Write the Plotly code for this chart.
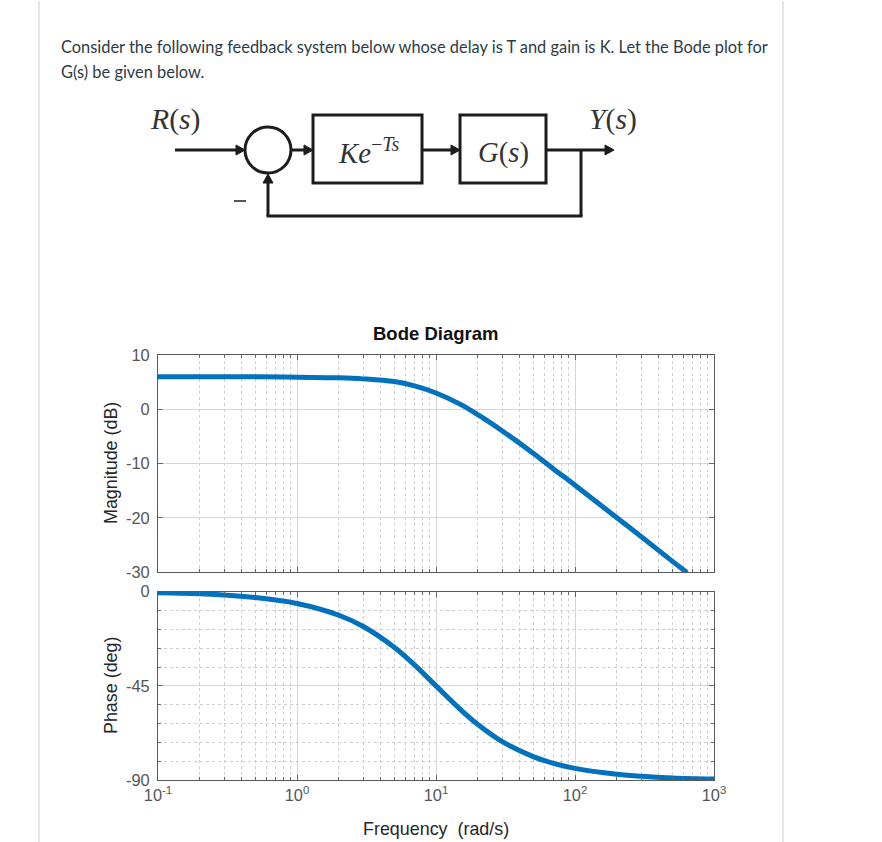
import plotly.graph_objects as go

# ---------------- data ----------------
freq_mag = [0.1, 0.2, 0.5, 1, 2, 3, 5, 7, 10, 15, 20, 30, 50, 70, 100, 200, 300, 500, 640]
mag_db = [6.0, 6.0, 6.0, 5.9, 5.8, 5.6, 5.1, 4.3, 3.0, 0.9, -1.0, -4.0, -8.1, -11.0,
          -14.0, -20.0, -23.5, -28.0, -30.1]
freq_phase = [0.1, 0.2, 0.5, 1, 2, 3, 5, 7, 10, 15, 20, 30, 50, 70, 100, 200, 300, 500, 1000]
phase_deg = [-0.6, -1.1, -2.9, -5.7, -11.3, -16.7, -26.6, -35.0, -45.0, -56.3, -63.4,
             -71.6, -78.7, -81.9, -84.3, -87.1, -88.1, -88.9, -89.4]

x_tick_vals = [0.1, 1, 10, 100, 1000]
x_tick_text = ["10<sup>-1</sup>", "10<sup>0</sup>", "10<sup>1</sup>", "10<sup>2</sup>", "10<sup>3</sup>"]
mag_ticks = [-30, -20, -10, 0, 10]
mag_tick_text = ["-30", "-20", "-10", "0", "10"]
phase_ticks = [-90, -45, 0]
phase_tick_text = ["-90", "-45", "0"]
phase_minor = [-81, -72, -63, -54, -36, -27, -18, -9]
minor_x = [m * d for d in [0.1, 1, 10, 100] for m in range(2, 10)]

W, H = 882, 842
# measured placement of the figure inside the photographed page
SX0, SY0, SCX, SCY = 14.0, 8.0, 0.9705, 0.9786
F = 1 / 0.975  # font compensation


def px(x):
    return ((x - SX0) / SCX) / W


def py(y):
    return 1 - ((y - SY0) / SCY) / H


def fs(s):
    return round(s * F, 1)


LINE = "#0072BD"
fig = go.Figure()
fig.add_trace(go.Scatter(x=freq_mag, y=mag_db, mode="lines", line=dict(color=LINE, width=5, shape="spline"),
                         xaxis="x", yaxis="y", showlegend=False))
fig.add_trace(go.Scatter(x=freq_phase, y=phase_deg, mode="lines", line=dict(color=LINE, width=5, shape="spline"),
                         xaxis="x2", yaxis="y2", showlegend=False))

tickfont = dict(family="Liberation Sans, Arial, sans-serif", size=fs(16), color="#555555")
common_x = dict(type="log", range=[-1, 3], domain=[px(158), px(714)], tickvals=x_tick_vals,
                ticktext=x_tick_text, ticks="inside", ticklen=5, tickcolor="#666666",
                showgrid=True, gridcolor="#d6d6d6", gridwidth=1,
                minor=dict(tickvals=minor_x, showgrid=True, gridcolor="#cfcfcf", griddash="dot",
                           ticks="inside", ticklen=3, tickcolor="#666666"),
                showline=True, linecolor="#5a5a5a", linewidth=1, mirror="ticks", zeroline=False,
                tickfont=tickfont)
common_y = dict(ticks="inside", ticklen=5, tickcolor="#666666", showgrid=True, gridcolor="#d6d6d6",
                showline=True, linecolor="#5a5a5a", linewidth=1, mirror="ticks", zeroline=False,
                tickfont=tickfont, ticklabelstandoff=4)

shapes = []
annotations = []
DK = "#1c1c1c"


def seg(x0, y0, x1, y1, w=3, color=DK):
    shapes.append(dict(type="line", xref="paper", yref="paper", x0=px(x0), y0=py(y0), x1=px(x1), y1=py(y1),
                       line=dict(color=color, width=w)))


def head(tx, ty, direction):
    L, hw = 9, 5
    if direction == "right":
        pts = [(tx, ty), (tx - L, ty - hw), (tx - L, ty + hw)]
    else:  # up
        pts = [(tx, ty), (tx - hw, ty + L), (tx + hw, ty + L)]
    p = "M " + " L ".join(f"{px(a)} {py(b)}" for a, b in pts) + " Z"
    shapes.append(dict(type="path", xref="paper", yref="paper", path=p, fillcolor=DK, line=dict(color=DK, width=1)))


def rect(x0, y0, x1, y1):
    shapes.append(dict(type="rect", xref="paper", yref="paper", x0=px(x0), y0=py(y1), x1=px(x1), y1=py(y0),
                       line=dict(color=DK, width=3)))


# page column borders
seg(39, 0, 39, 842, w=1, color="#c7cdd1")
seg(783, 0, 783, 842, w=1, color="#c7cdd1")

# block diagram
seg(175, 149, 238, 149)
head(245, 149, "right")
shapes.append(dict(type="circle", xref="paper", yref="paper", x0=px(245), x1=px(291), y0=py(172), y1=py(126),
                   line=dict(color=DK, width=3)))
seg(291, 149, 306, 149)
head(313, 149, "right")
rect(313, 114, 422, 182)
seg(422, 149, 452, 149)
head(460, 149, "right")
rect(460, 114, 546, 182)
seg(546, 149, 606, 149)
head(614, 149, "right")
seg(581, 149, 581, 215)
seg(582.5, 215, 266.5, 215)
seg(268, 215, 268, 181)
head(268, 173, "up")
seg(234, 200, 246, 200, w=1.5)

serif = "Liberation Serif, DejaVu Serif, serif"


def txt(x, y, s, size, family, color="#1c1c1c", xanchor="center", angle=0):
    annotations.append(dict(x=px(x), y=py(y), xref="paper", yref="paper", text=s, showarrow=False,
                            xanchor=xanchor, yanchor="middle", textangle=angle,
                            font=dict(family=family, size=fs(size), color=color)))


txt(175, 118, "<i>R</i>(<i>s</i>)", 29, serif, color="#333333")
txt(613, 118, "<i>Y</i>(<i>s</i>)", 29, serif, color="#333333")
txt(369, 150, "<i>Ke</i><sup>−<i>Ts</i></sup>", 28, serif, color="#333333")
txt(503, 151, "<i>G</i>(<i>s</i>)", 28, serif, color="#333333")

# page text
lato = "Lato, Open Sans, sans-serif"
txt(59, 45, "Consider the following feedback system below whose delay is T and gain is K. Let the Bode plot for",
    16, lato, color="#2d3b45", xanchor="left")
txt(59, 70, "G(s) be given below.", 16, lato, color="#2d3b45", xanchor="left")

# bode labels
sans = "Liberation Sans, Arial, sans-serif"
txt(435, 332, "<b>Bode Diagram</b>", 18, sans, color="#111111")
txt(436, 828, "Frequency  (rad/s)", 17.5, sans, color="#262626")
txt(111, 462, "Magnitude (dB)", 17.5, sans, color="#262626", angle=-90)
txt(111, 685, "Phase (deg)", 17.5, sans, color="#262626", angle=-90)

fig.update_layout(
    width=W, height=H, margin=dict(l=0, r=0, t=0, b=0),
    paper_bgcolor="white", plot_bgcolor="white",
    xaxis=dict(common_x, anchor="y", showticklabels=False),
    yaxis=dict(common_y, anchor="x", range=[-30, 10], domain=[py(571), py(354)], tickvals=mag_ticks,
               ticktext=mag_tick_text),
    xaxis2=dict(common_x, anchor="y2", showticklabels=True),
    yaxis2=dict(common_y, anchor="x2", range=[-90, 0], domain=[py(779.3), py(590.5)], tickvals=phase_ticks,
                ticktext=phase_tick_text,
                minor=dict(tickvals=phase_minor, showgrid=True, gridcolor="#cfcfcf", griddash="dot",
                           ticks="inside", ticklen=3, tickcolor="#666666")),
    shapes=shapes, annotations=annotations,
)

fig.write_html("out.html")
